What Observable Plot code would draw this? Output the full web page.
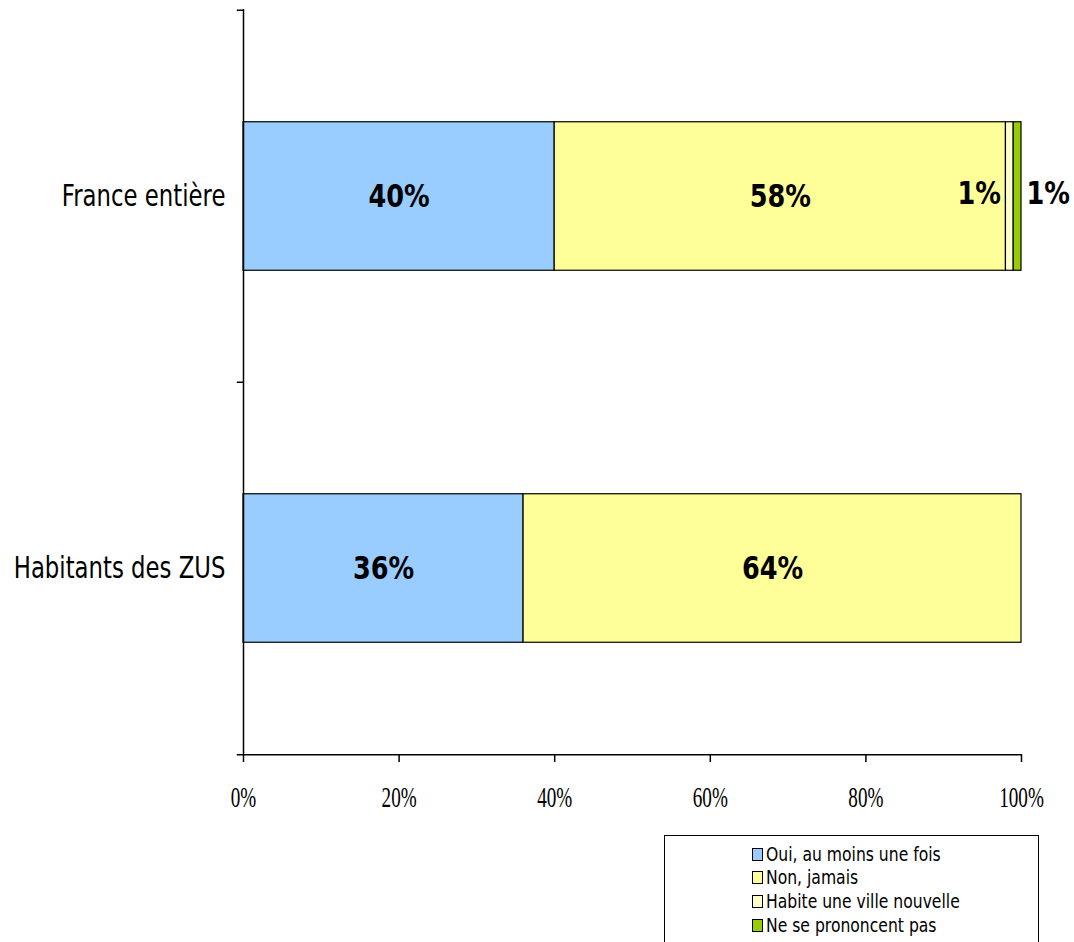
<!DOCTYPE html>
<html>
<head>
<meta charset="utf-8">
<script src="https://cdn.jsdelivr.net/npm/d3@7"></script>
<script src="https://cdn.jsdelivr.net/npm/@observablehq/plot@0.6"></script>
<style>
  html, body { margin: 0; padding: 0; background: #fff; }
  #wrap { position: relative; width: 1074px; height: 942px; overflow: hidden; }
  #chart svg { display: block; }
  #legend {
    position: absolute; left: 664px; top: 835px; width: 375px; height: 130px;
    border: 1.5px solid #000; box-sizing: border-box; background: #fff;
    font-family: "DejaVu Sans", sans-serif;
    font-size: 20px; color: #000;
  }
  .item { position: absolute; left: 87px; height: 23px; line-height: 23px; white-space: nowrap; }
  .sw { display: inline-block; width: 9px; height: 11px; border: 1.5px solid #000; vertical-align: 0px; margin-right: 3px; }
  .lt { display: inline-block; transform: scaleX(0.78); transform-origin: 0 50%; }
</style>
</head>
<body>
<div id="wrap">
  <div id="chart"></div>
  <div id="legend"></div>
</div>
<script>
const categories = ["France entière", "Habitants des ZUS"];
const series = ["Oui, au moins une fois", "Non, jamais", "Habite une ville nouvelle", "Ne se prononcent pas"];
const colors = ["#99CCFF", "#FFFF99", "#FFFFCC", "#99CC00"];
const oui = [40, 36];
const non = [58, 64];
const habite = [1, 0];
const nspp = [1, 0];
const xTicks = [0, 20, 40, 60, 80, 100];

const valuesBySeries = [oui, non, habite, nspp];
const data = [];
categories.forEach((c, i) => {
  series.forEach((s, j) => {
    data.push({category: c, series: s, value: valuesBySeries[j][i]});
  });
});
const shown = data.filter(d => d.value > 0);

const width = 1074, height = 830;
const marginTop = 9, marginBottom = 76, marginLeft = 243, marginRight = 53;
const step = (height - marginTop - marginBottom) / categories.length;
const inset = step * 0.3;
const labelFont = "'DejaVu Sans', sans-serif";

const isBig = d => d.value >= 5;
const bigText = d => isBig(d) ? d.value + "%" : null;
const habText = d => d.series === series[2] && d.value > 0 ? d.value + "%" : null;
const nsppText = d => d.series === series[3] && d.value > 0 ? d.value + "%" : null;

const chart = Plot.plot({
  width, height, marginTop, marginBottom, marginLeft, marginRight,
  style: {background: "#fff", overflow: "visible"},
  x: {domain: [0, 100]},
  y: {domain: categories, padding: 0},
  color: {domain: series, range: colors},
  marks: [
    Plot.barX(shown, Plot.stackX({
      x: "value", y: "category", fill: "series",
      stroke: "#000", strokeWidth: 1.2, insetTop: inset, insetBottom: inset
    })),
    Plot.text(data, Plot.stackX({
      x: "value", y: "category", text: bigText,
      fontSize: 32, fontWeight: "bold", fontFamily: labelFont, fill: "#000"
    })),
    Plot.text(data, Plot.stackX1({
      x: "value", y: "category", text: habText, textAnchor: "end", dx: -5, dy: -3,
      fontSize: 32, fontWeight: "bold", fontFamily: labelFont, fill: "#000"
    })),
    Plot.text(data, Plot.stackX2({
      x: "value", y: "category", text: nsppText, textAnchor: "start", dx: 5, dy: -3,
      fontSize: 32, fontWeight: "bold", fontFamily: labelFont, fill: "#000"
    })),
    Plot.ruleX([0], {stroke: "#000", strokeWidth: 1.5}),
    Plot.ruleY(categories, {y: d => d, dy: -step / 2, x1: -0.8, x2: 0, stroke: "#000", strokeWidth: 1.5}),
    Plot.ruleY(categories.slice(-1), {y: d => d, dy: step / 2, x1: -0.8, x2: 100, stroke: "#000", strokeWidth: 1.5}),
    Plot.axisY({
      tickSize: 0, tickPadding: 18, label: null,
      fontSize: 30, fontFamily: labelFont, fill: "#000"
    }),
    Plot.axisX({
      ticks: xTicks, tickSize: 8, tickPadding: 24, label: null,
      tickFormat: d => d + "%", stroke: "#000", strokeWidth: 1.5,
      fontSize: 29, fontFamily: "'Liberation Serif', 'Times New Roman', serif", fill: "#000"
    })
  ]
});

document.getElementById("chart").appendChild(chart);

// Horizontal squeeze of text (after layout) to mimic the condensed look of the original
chart.querySelectorAll("text").forEach(t => {
  const g = t.closest("g[aria-label]");
  const kind = g ? g.getAttribute("aria-label") : "";
  let sx = 0.8;
  if (kind.includes("x-axis")) sx = 0.66;
  else if (kind.includes("y-axis")) sx = 0.76;
  const len = t.getComputedTextLength();
  if (len > 0) {
    t.setAttribute("lengthAdjust", "spacingAndGlyphs");
    t.setAttribute("textLength", (len * sx).toFixed(2));
  }
});

const legend = document.getElementById("legend");
const tops = [7, 30, 54, 78];
series.forEach((s, j) => {
  const div = document.createElement("div");
  div.className = "item";
  div.style.top = tops[j] + "px";
  const sw = document.createElement("span");
  sw.className = "sw";
  sw.style.background = colors[j];
  div.appendChild(sw);
  const lt = document.createElement("span");
  lt.className = "lt";
  lt.textContent = s;
  div.appendChild(lt);
  legend.appendChild(div);
});
</script>
</body>
</html>
